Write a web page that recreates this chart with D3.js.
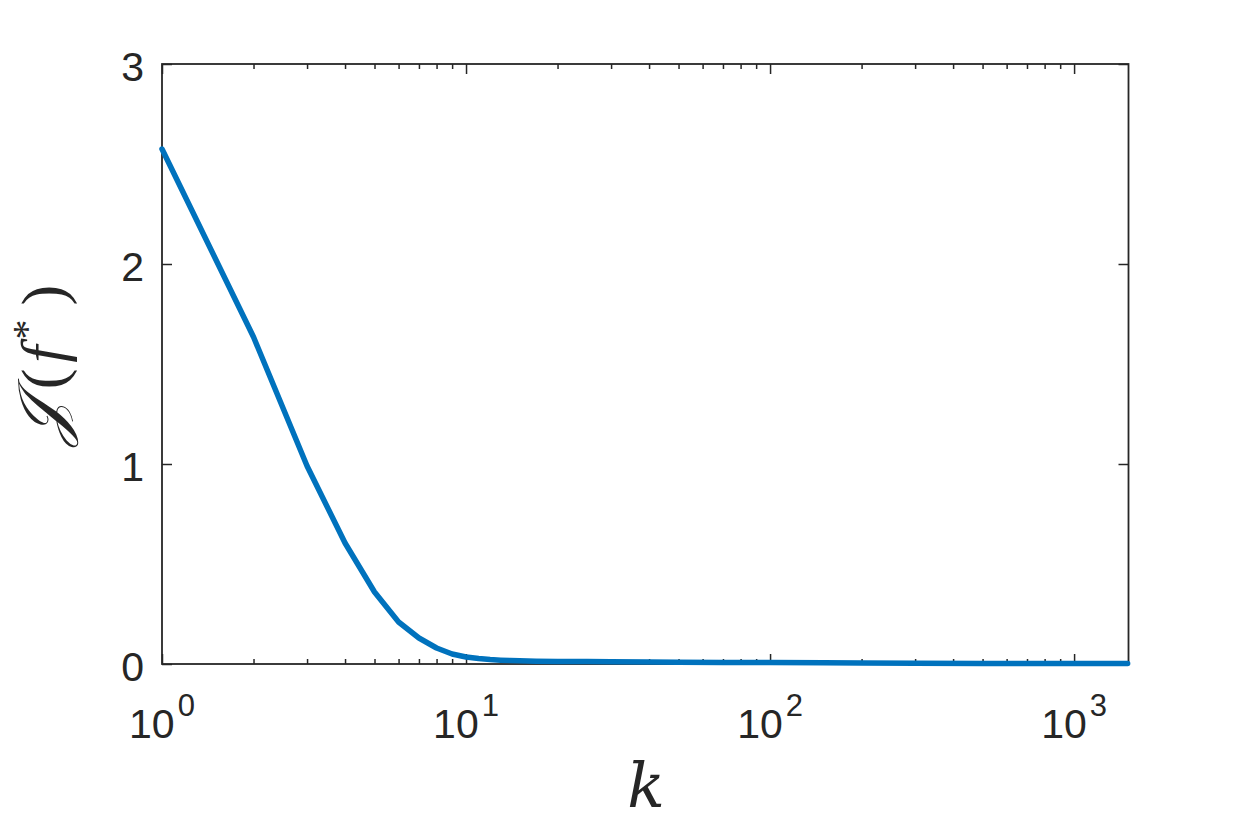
<!DOCTYPE html>
<html>
<head>
<meta charset="utf-8">
<script src="https://cdn.jsdelivr.net/npm/d3@7"></script>
<style>
  html, body { margin: 0; padding: 0; background: #fff; }
  svg { display: block; }
</style>
</head>
<body>
<svg id="chart" width="1246" height="832"></svg>
<script>
// ---- data ----
const kValues = [1, 2, 3, 4, 5, 6, 7, 8, 9, 10, 11, 12, 13, 14, 15, 17, 20, 25, 30, 40, 50, 70, 100, 150, 200, 300, 500, 700, 1000, 1500];
const jValues = [2.575, 1.635, 0.99, 0.605, 0.36, 0.21, 0.13, 0.08, 0.05, 0.035, 0.027, 0.022, 0.019, 0.017, 0.016, 0.014, 0.013, 0.012, 0.011, 0.01, 0.009, 0.008, 0.007, 0.006, 0.005, 0.004, 0.003, 0.003, 0.002, 0.002];
const xMajorTicks = [1, 10, 100, 1000];
const xTickExponents = ["0", "1", "2", "3"];
const yTicks = [0, 1, 2, 3];
const xDomain = [1, 1510];
const yDomain = [0, 3];

(function () {
// ---- layout ----
const svg = d3.select("#chart");
const pLeft = 162, pRight = 1128.5, pTop = 64, pBottom = 664;
const axisColor = "#262626";

const x = d3.scaleLog().domain(xDomain).range([pLeft, pRight]);
const y = d3.scaleLinear().domain(yDomain).range([pBottom, pTop]);

// minor ticks
const minorTicks = [];
for (let d = 1; d <= 1000; d *= 10) {
  for (let m = 2; m <= 9; m++) {
    const v = d * m;
    if (v <= xDomain[1]) minorTicks.push(v);
  }
}

const g = svg.append("g");

const bottomMajor = d3.axisBottom(x).tickValues(xMajorTicks).tickSize(-10).tickFormat("");
const bottomMinor = d3.axisBottom(x).tickValues(minorTicks).tickSize(-5).tickFormat("");
const topMajor = d3.axisTop(x).tickValues(xMajorTicks).tickSize(-10).tickFormat("");
const topMinor = d3.axisTop(x).tickValues(minorTicks).tickSize(-5).tickFormat("");
const leftAxis = d3.axisLeft(y).tickValues(yTicks).tickSize(-10).tickFormat("");
const rightAxis = d3.axisRight(y).tickValues(yTicks).tickSize(-10).tickFormat("");

function styleAxis(sel) {
  sel.selectAll("path.domain").attr("stroke", "none");
  sel.selectAll(".tick line").attr("stroke", axisColor).attr("stroke-width", 1.5);
}

g.append("g").attr("transform", `translate(0,${pBottom})`).call(bottomMajor).call(styleAxis);
g.append("g").attr("transform", `translate(0,${pBottom})`).call(bottomMinor).call(styleAxis);
g.append("g").attr("transform", `translate(0,${pTop})`).call(topMajor).call(styleAxis);
g.append("g").attr("transform", `translate(0,${pTop})`).call(topMinor).call(styleAxis);
g.append("g").attr("transform", `translate(${pLeft},0)`).call(leftAxis).call(styleAxis);
g.append("g").attr("transform", `translate(${pRight},0)`).call(rightAxis).call(styleAxis);

// frame
g.append("rect")
  .attr("x", pLeft).attr("y", pTop)
  .attr("width", pRight - pLeft).attr("height", pBottom - pTop)
  .attr("fill", "none").attr("stroke", axisColor).attr("stroke-width", 1.8);

// line
const data = kValues.map((k, i) => ({ k, v: jValues[i] }));
const line = d3.line().x(d => x(d.k)).y(d => y(d.v));
g.append("path")
  .datum(data)
  .attr("d", line)
  .attr("fill", "none")
  .attr("stroke", "#0072BD")
  .attr("stroke-width", 5.5)
  .attr("stroke-linejoin", "round")
  .attr("stroke-linecap", "round");

// y tick labels
const font = "Liberation Sans, Arial, Helvetica, sans-serif";
g.selectAll("text.ylab").data(yTicks).enter().append("text")
  .attr("class", "ylab")
  .attr("x", pLeft - 18)
  .attr("y", d => y(d) + 17)
  .attr("text-anchor", "end")
  .attr("font-family", font)
  .attr("font-size", 41)
  .attr("fill", axisColor)
  .text(d => d);

// x tick labels: 10^n
xMajorTicks.forEach((t, i) => {
  const txt = g.append("text")
    .attr("x", x(t))
    .attr("y", 738)
    .attr("text-anchor", "middle")
    .attr("font-family", font)
    .attr("font-size", 41)
    .attr("fill", axisColor);
  txt.append("tspan").text("10");
  txt.append("tspan").attr("dy", -22).attr("dx", 3).attr("font-size", 31).text(xTickExponents[i]);
});

// x axis label
g.append("text")
  .attr("x", 646)
  .attr("y", 807)
  .attr("text-anchor", "middle")
  .attr("font-family", "DejaVu Serif, Liberation Serif, serif")
  .attr("font-style", "italic")
  .attr("font-size", 62)
  .attr("fill", axisColor)
  .text("k");

// y axis label
const yl = g.append("text")
  .attr("transform", "translate(64,365) rotate(-90)")
  .attr("text-anchor", "middle")
  .attr("font-family", "Liberation Serif, DejaVu Serif, serif")
  .attr("font-size", 62)
  .attr("fill", axisColor);
yl.append("tspan").attr("font-family", "DejaVu Serif, Liberation Serif, serif").attr("font-style", "italic").attr("font-size", 66).text("𝒥");
yl.append("tspan").attr("dx", 10).attr("font-weight", 300).text("(");
yl.append("tspan").attr("dx", 6).attr("font-style", "italic").text("f");
yl.append("tspan").attr("dx", 6).attr("font-size", 40).attr("dy", -24).text("*");
yl.append("tspan").attr("dx", 14).attr("dy", 24).text(")");
})();
</script>
</body>
</html>
